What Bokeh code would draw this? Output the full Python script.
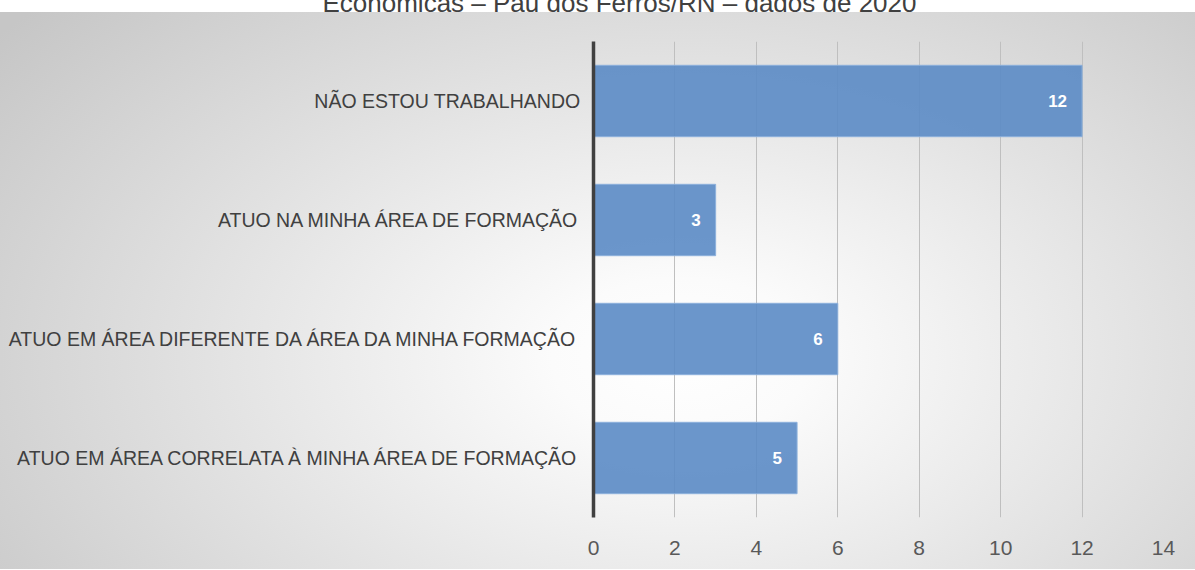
from bokeh.plotting import figure
from bokeh.models import ColumnDataSource, LabelSet, FactorRange, Range1d, SingleIntervalTicker, Div
from bokeh.core.properties import value
from bokeh.layouts import column
from bokeh.embed import file_html
from bokeh.resources import INLINE

title_text = "Econômicas – Pau dos Ferros/RN – dados de 2020"
categories = [
    "NÃO ESTOU TRABALHANDO",
    "ATUO NA MINHA ÁREA DE FORMAÇÃO",
    "ATUO EM ÁREA DIFERENTE DA ÁREA DA MINHA FORMAÇÃO",
    "ATUO EM ÁREA CORRELATA À MINHA ÁREA DE FORMAÇÃO",
]
values = [12, 3, 6, 5]

source = ColumnDataSource(dict(cat=categories, val=values, label=[str(v) for v in values]))

p = figure(
    width=1195, height=557,
    y_range=FactorRange(factors=list(reversed(categories))),
    x_range=Range1d(0, 14),
    output_backend="svg", toolbar_location=None,
    min_border_left=593, min_border_right=32, min_border_top=29, min_border_bottom=52,
)
p.styles = {
    "background": "radial-gradient(ellipse 72% 95% at 57% 62%, #ffffff 0%, #fbfbfb 15%, #c6c6c6 100%)",
}
p.border_fill_color = None
p.background_fill_color = None
p.outline_line_color = None

p.hbar(y="cat", right="val", height=0.6, source=source,
       fill_color="#5b8bc5", fill_alpha=0.9, line_color="#8db1dc", line_width=1)

labels = LabelSet(x="val", y="cat", text="label", source=source, x_offset=-15,
                  text_align="right", text_baseline="middle", text_color="white",
                  text_font=value("Liberation Sans"), text_font_style="bold",
                  text_font_size="17px")
p.add_layout(labels)

p.xaxis.ticker = SingleIntervalTicker(interval=2)
p.xaxis.axis_line_color = None
p.xaxis.major_tick_line_color = None
p.xaxis.minor_tick_line_color = None
p.xaxis.major_label_standoff = 17
p.xaxis.major_label_text_font = "Liberation Sans"
p.xaxis.major_label_text_font_size = "21px"
p.xaxis.major_label_text_color = "#595959"

p.yaxis.axis_line_color = "#404040"
p.yaxis.axis_line_width = 3.5
p.yaxis.major_tick_line_color = None
p.yaxis.minor_tick_line_color = None
p.yaxis.major_label_standoff = 7
p.yaxis.major_label_text_font = "Liberation Sans"
p.yaxis.major_label_text_font_size = "19.5px"
p.yaxis.major_label_text_color = "#404040"

p.xgrid.grid_line_color = "#bfbfbf"
p.xgrid.grid_line_width = 1
p.ygrid.grid_line_color = None

title = Div(text='<span style="position:relative;left:17px">' + title_text + '</span>',
            width=1195, height=17,
            styles={"margin-top": "-10px", "text-align": "center",
                    "font-family": "Liberation Sans", "font-size": "26px",
                    "color": "#404040", "line-height": "26px", "overflow": "visible"})

layout = column(title, p, spacing=0)
open("out.html", "w").write(file_html(layout, INLINE))
